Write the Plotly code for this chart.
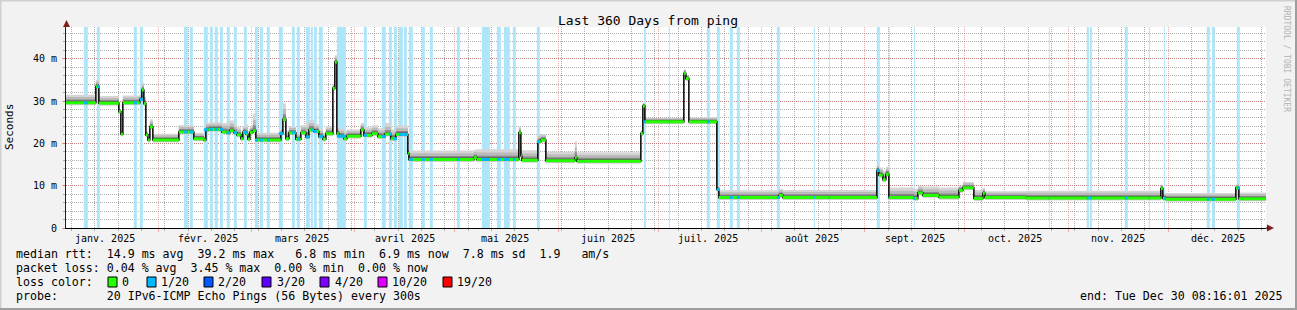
import numpy as np
import pandas as pd
import plotly.graph_objects as go

# ---------------- data ----------------
END = pd.Timestamp("2025-12-30 08:16:01")
START = END - pd.Timedelta(days=360)
BASE = pd.Timestamp("2025-01-01")

# step breakpoints: days after 2025-01-01, median rtt (ms), top of smoke (ms)
seg_day = [3.3, 12.3, 13.2, 19.2, 19.8, 20.4, 25.5, 26.1, 26.7, 27.3,
           27.9, 28.5, 29.4, 37.2, 41.7, 44.7, 45.3, 46.2, 50.1, 51.6,
           52.5, 53.7, 54.6, 55.8, 56.4, 57.3, 57.9, 58.5, 59.4, 60.3,
           67.8, 68.4, 69.3, 70.2, 72.3, 73.8, 75.3, 76.2, 77.7, 79.2,
           80.4, 81.3, 83.4, 84.0, 84.6, 85.2, 86.7, 87.6, 91.8, 92.7,
           95.1, 96.9, 99.0, 100.8, 102.3, 105.9, 106.2, 125.7, 126.6, 139.2,
           139.8, 140.1, 144.9, 145.8, 147.3, 156.0, 156.6, 175.8, 176.4, 177.0,
           188.7, 189.3, 190.2, 198.6, 199.2, 217.2, 218.4, 246.6, 247.2, 248.4,
           249.3, 250.2, 257.7, 258.9, 260.4, 265.2, 271.2, 272.4, 275.7, 278.4,
           279.0, 291.3, 331.8, 332.4, 333.3, 354.3, 355.2]
median_ms = [29.6, 33.4, 29.5, 27.5, 22.2, 29.6, 30.4, 32.6, 29.4, 22.0,
             20.8, 23.9, 20.8, 22.7, 21.1, 20.8, 23.2, 23.3, 22.7, 22.5,
             23.0, 22.5, 22.0, 21.1, 22.6, 22.2, 21.0, 22.6, 23.0, 20.8,
             22.3, 25.6, 21.1, 22.5, 21.0, 22.5, 21.5, 23.2, 22.8, 21.6,
             21.0, 22.3, 33.0, 39.2, 22.3, 21.7, 21.1, 21.7, 23.2, 21.9,
             22.3, 21.6, 22.2, 21.1, 22.1, 17.6, 16.2, 16.6, 16.2, 22.5,
             17.0, 16.0, 20.4, 20.8, 15.9, 16.6, 15.8, 22.3, 28.8, 25.1,
             36.5, 35.3, 25.1, 9.1, 7.2, 7.7, 7.2, 13.6, 12.5, 11.4,
             12.7, 7.2, 7.0, 8.3, 7.7, 7.3, 8.9, 9.5, 7.0, 8.2,
             7.2, 7.1, 9.3, 7.0, 6.8, 9.5, 6.9]
smoke_top_ms = [31.5, 35.0, 31.2, 28.0, 22.8, 31.3, 31.5, 34.4, 31.0, 22.8,
                21.5, 25.7, 22.3, 24.3, 22.5, 21.8, 24.8, 25.0, 24.8, 25.0,
                25.4, 24.5, 23.8, 22.8, 24.0, 24.5, 23.0, 24.0, 27.0, 22.5,
                23.5, 29.5, 23.0, 24.0, 22.3, 24.3, 25.0, 25.5, 24.5, 23.5,
                22.5, 24.0, 34.0, 40.8, 24.0, 23.5, 23.0, 23.3, 24.8, 23.8,
                24.3, 23.6, 24.8, 23.3, 24.2, 18.6, 18.3, 18.5, 18.6, 24.0,
                19.5, 18.4, 22.0, 22.2, 18.0, 20.5, 17.9, 23.0, 29.5, 26.0,
                37.5, 36.2, 26.1, 9.8, 8.9, 9.3, 9.0, 15.0, 14.3, 13.5,
                14.5, 9.6, 9.3, 10.0, 9.8, 9.6, 10.0, 10.9, 9.0, 9.5,
                8.7, 8.8, 10.3, 8.2, 8.3, 10.3, 8.4]

# periods with packet loss (1/20): start / end, days after 2025-01-01
loss_start_day = [8.7, 12.6, 23.7, 25.5, 38.7, 40.5, 44.7, 46.5, 48.0, 49.5,
                  51.6, 53.7, 56.7, 60.0, 61.5, 63.6, 67.2, 71.1, 72.6, 75.3,
                  76.8, 77.7, 79.2, 84.6, 92.7, 98.1, 100.2, 101.7, 103.2, 104.7,
                  106.2, 110.1, 112.5, 120.6, 128.1, 132.6, 134.7, 137.4, 144.6, 176.7,
                  184.2, 195.6, 198.6, 202.5, 204.6, 216.6, 227.7, 232.2, 246.6, 250.2,
                  257.7, 298.2, 309.6, 310.5, 321.0, 328.2, 332.7, 345.6, 347.1, 354.6]
loss_end_day = [9.9, 13.5, 24.6, 26.4, 39.9, 41.4, 45.9, 47.4, 48.9, 50.4,
                52.5, 54.6, 57.6, 60.9, 62.4, 64.5, 68.4, 72.0, 73.5, 76.5,
                77.4, 78.6, 80.4, 87.3, 93.6, 99.3, 101.1, 102.6, 104.4, 105.6,
                107.4, 111.0, 113.4, 121.5, 130.5, 133.8, 136.5, 138.3, 145.5, 177.3,
                184.5, 196.5, 199.5, 203.4, 205.5, 217.5, 228.0, 232.5, 247.5, 250.5,
                258.0, 298.5, 310.2, 311.1, 321.9, 328.5, 333.0, 346.5, 348.0, 355.5]

month_labels = ["janv. 2025", "févr. 2025", "mars 2025", "avril 2025", "mai 2025",
                "juin 2025", "juil. 2025", "août 2025", "sept. 2025", "oct. 2025",
                "nov. 2025", "déc. 2025"]
y_ticks = [0, 10, 20, 30, 40]
y_labels = ["0", "10 m", "20 m", "30 m", "40 m"]

legend_lines = [
    "median rtt:  14.9 ms avg  39.2 ms max   6.8 ms min  6.9 ms now  7.8 ms sd  1.9   am/s",
    "packet loss: 0.04 % avg  3.45 % max  0.00 % min  0.00 % now",
]
loss_names = ["0", "1/20", "2/20", "3/20", "4/20", "10/20", "19/20"]
loss_colors = ["#26ff00", "#00b8ff", "#0059ff", "#5e00ff", "#7e00ff", "#dd00ff", "#ff0000"]
probe_text = "probe:       20 IPv6-ICMP Echo Pings (56 Bytes) every 300s"
end_text = "end: Tue Dec 30 08:16:01 2025"
Y_TOP = 47.5

# ---------------- geometry helpers ----------------
L, R, T, B = 66, 31, 27, 82
W, H = 1297, 310
PW, PH = W - L - R, H - T - B


def px(x):
    return (x - L) / PW


def py(y):
    return (H - B - y) / PH


FONT = "DejaVu Sans Mono"
MGRID = "rgba(222,79,79,0.45)"
GRID = "rgba(143,143,143,0.7)"

# ---------------- derived series ----------------
t = BASE + pd.to_timedelta(np.array(seg_day), unit="D")
t_ext = list(t) + [END]
med = np.array(median_ms)
top = np.array(smoke_top_ms)
med_ext = list(med) + [med[-1]]
spread = top - med

fig = go.Figure()

# loss background bars
ls = BASE + pd.to_timedelta(np.array(loss_start_day), unit="D")
le = BASE + pd.to_timedelta(np.array(loss_end_day), unit="D")
mid = ls + (le - ls) / 2
widths = [(b - a).total_seconds() * 1000 for a, b in zip(ls, le)]
fig.add_trace(go.Bar(x=mid, y=[Y_TOP] * len(mid), width=widths, base=0,
                     marker=dict(color="#aee5f8", line=dict(width=0)),
                     hoverinfo="skip"))


# smoke bands
def band(lo, hi, color):
    lo = list(lo) + [lo[-1]]
    hi = list(hi) + [hi[-1]]
    fig.add_trace(go.Scatter(x=t_ext, y=lo, mode="lines", line=dict(width=0, shape="hv"),
                             hoverinfo="skip"))
    fig.add_trace(go.Scatter(x=t_ext, y=hi, mode="lines", line=dict(width=0, shape="hv"),
                             fill="tonexty", fillcolor=color, hoverinfo="skip"))


band(med - 0.6, top, "#d5d5d5")
band(med - 0.4, med + 0.3 + 0.55 * spread, "#bababa")
band(med - 0.2, med + 0.3 + 0.25 * spread, "#8a8a8a")
band(med - 0.1, med + 0.45, "#4a4a4a")

# black median connector
fig.add_trace(go.Scatter(x=t_ext, y=med_ext, mode="lines",
                         line=dict(color="#101010", width=1.6, shape="hv"), hoverinfo="skip"))

# green (no loss) median segments
gx, gy = [], []
for i in range(len(t)):
    gx += [t_ext[i], t_ext[i + 1], None]
    gy += [med[i], med[i], None]
fig.add_trace(go.Scatter(x=gx, y=gy, mode="lines", line=dict(color=loss_colors[0], width=3),
                         hoverinfo="skip"))

# median coloured by loss during loss periods
bx, by = [], []
for a, b, m in zip(ls, le, mid):
    k = max(0, np.searchsorted(t, m, side="right") - 1)
    bx += [a, b, None]
    by += [med[k], med[k], None]
fig.add_trace(go.Scatter(x=bx, y=by, mode="lines", line=dict(color=loss_colors[1], width=3),
                         hoverinfo="skip"))

# ---------------- axes ----------------
fig.update_xaxes(type="date", range=[START, END], showticklabels=False,
                 tick0="2025-01-01", dtick="M1",
                 ticks="outside", ticklen=3, tickcolor=MGRID,
                 showgrid=True, gridcolor=MGRID, griddash="1px,1px", gridwidth=1,
                 minor=dict(tick0="2025-01-06", dtick=7 * 86400000, showgrid=True,
                            gridcolor=GRID, griddash="1px,1px",
                            ticks="outside", ticklen=2, tickcolor=GRID),
                 showline=True, linecolor="#000000", linewidth=1, zeroline=False, fixedrange=True)
fig.update_yaxes(range=[0, Y_TOP], tickmode="array", tickvals=y_ticks, ticktext=y_labels,
                 tickfont=dict(family=FONT, size=10, color="black"),
                 ticks="outside", ticklen=3, tickcolor=MGRID,
                 showgrid=True, gridcolor=MGRID, griddash="1px,1px",
                 minor=dict(dtick=2, showgrid=True, gridcolor=GRID,
                            griddash="1px,1px", ticks="outside", ticklen=2,
                            tickcolor=GRID),
                 showline=True, linecolor="#1f1f1f", linewidth=1, zeroline=False,
                 ticklabelstandoff=3, fixedrange=True)

ann = []
# month labels centred half a month after each month start
for i, lab in enumerate(month_labels):
    pos = pd.Timestamp(2025, i + 1, 1) + pd.Timedelta(days=15)
    if START <= pos <= END:
        ann.append(dict(x=pos, y=py(238), xref="x", yref="paper", text=lab, showarrow=False,
                        font=dict(family=FONT, size=10, color="black"),
                        xanchor="center", yanchor="middle"))

ann.append(dict(x=px(648), y=py(20), xref="paper", yref="paper", text="Last 360 Days from ping",
                showarrow=False, font=dict(family=FONT, size=13, color="black"),
                xanchor="center", yanchor="middle"))
ann.append(dict(x=px(10), y=py(127), xref="paper", yref="paper", text="Seconds", textangle=-90,
                showarrow=False, font=dict(family=FONT, size=11, color="black"),
                xanchor="center", yanchor="middle"))
ann.append(dict(x=px(1287), y=py(59), xref="paper", yref="paper", text="RRDTOOL / TOBI OETIKER",
                textangle=90, showarrow=False, font=dict(family=FONT, size=8, color="#b4b4b4"),
                xanchor="center", yanchor="middle"))

LEG_FONT = dict(family=FONT, size=11.6, color="black")
for txt, yy in zip(legend_lines, [254, 268]):
    ann.append(dict(x=px(14), y=py(yy), xref="paper", yref="paper", text=txt.replace(" ", "&nbsp;"),
                    showarrow=False, xanchor="left", yanchor="middle", font=LEG_FONT))
ann.append(dict(x=px(14), y=py(282), xref="paper", yref="paper", text="loss&nbsp;color:",
                showarrow=False, xanchor="left", yanchor="middle", font=LEG_FONT))
ann.append(dict(x=px(14), y=py(296), xref="paper", yref="paper", text=probe_text.replace(" ", "&nbsp;"),
                showarrow=False, xanchor="left", yanchor="middle", font=LEG_FONT))
ann.append(dict(x=px(1284), y=py(296), xref="paper", yref="paper", text=end_text.replace(" ", "&nbsp;"),
                showarrow=False, xanchor="right", yanchor="middle", font=LEG_FONT))

shapes = []
sq_x = [108, 147, 204, 262, 320, 378, 443]
lab_x = [120, 159, 216, 275, 333, 390, 455]
for sx, lx, name, col in zip(sq_x, lab_x, loss_names, loss_colors):
    shapes.append(dict(type="rect", xref="paper", yref="paper", x0=px(sx), x1=px(sx + 9),
                       y0=py(287), y1=py(277), fillcolor=col, line=dict(color="black", width=1)))
    ann.append(dict(x=px(lx), y=py(282), xref="paper", yref="paper", text=name, showarrow=False,
                    xanchor="left", yanchor="middle", font=LEG_FONT))

# axis arrows
shapes.append(dict(type="path", xref="paper", yref="paper",
                   path=f"M {px(63)} {py(27)} L {px(70)} {py(27)} L {px(66.5)} {py(20)} Z",
                   fillcolor="#801f1f", line=dict(width=0)))
shapes.append(dict(type="path", xref="paper", yref="paper",
                   path=f"M {px(1267)} {py(224.5)} L {px(1267)} {py(231.5)} L {px(1274)} {py(228)} Z",
                   fillcolor="#801f1f", line=dict(width=0)))
shapes.append(dict(type="line", xref="paper", yref="paper", x0=px(1266), x1=px(1268),
                   y0=py(228), y1=py(228), line=dict(color="black", width=1)))
# frame
shapes.append(dict(type="line", xref="paper", yref="paper", x0=px(0), x1=px(W), y0=py(0.5), y1=py(0.5),
                   line=dict(color="#cfcfcf", width=2)))
shapes.append(dict(type="line", xref="paper", yref="paper", x0=px(0.5), x1=px(0.5), y0=py(0), y1=py(H),
                   line=dict(color="#cfcfcf", width=2)))
shapes.append(dict(type="line", xref="paper", yref="paper", x0=px(0), x1=px(W), y0=py(H - 1), y1=py(H - 1),
                   line=dict(color="#9e9e9e", width=2)))
shapes.append(dict(type="line", xref="paper", yref="paper", x0=px(W - 1), x1=px(W - 1), y0=py(0), y1=py(H),
                   line=dict(color="#9e9e9e", width=2)))

fig.update_layout(width=W, height=H, margin=dict(l=L, r=R, t=T, b=B, pad=0),
                  paper_bgcolor="#f2f2f2", plot_bgcolor="#ffffff", showlegend=False,
                  barmode="overlay", font=dict(family=FONT, size=10, color="black"),
                  annotations=ann, shapes=shapes, hovermode=False)

fig.write_html("out.html", config={"displayModeBar": False, "staticPlot": True},
               post_script="document.body.style.margin='0';")
